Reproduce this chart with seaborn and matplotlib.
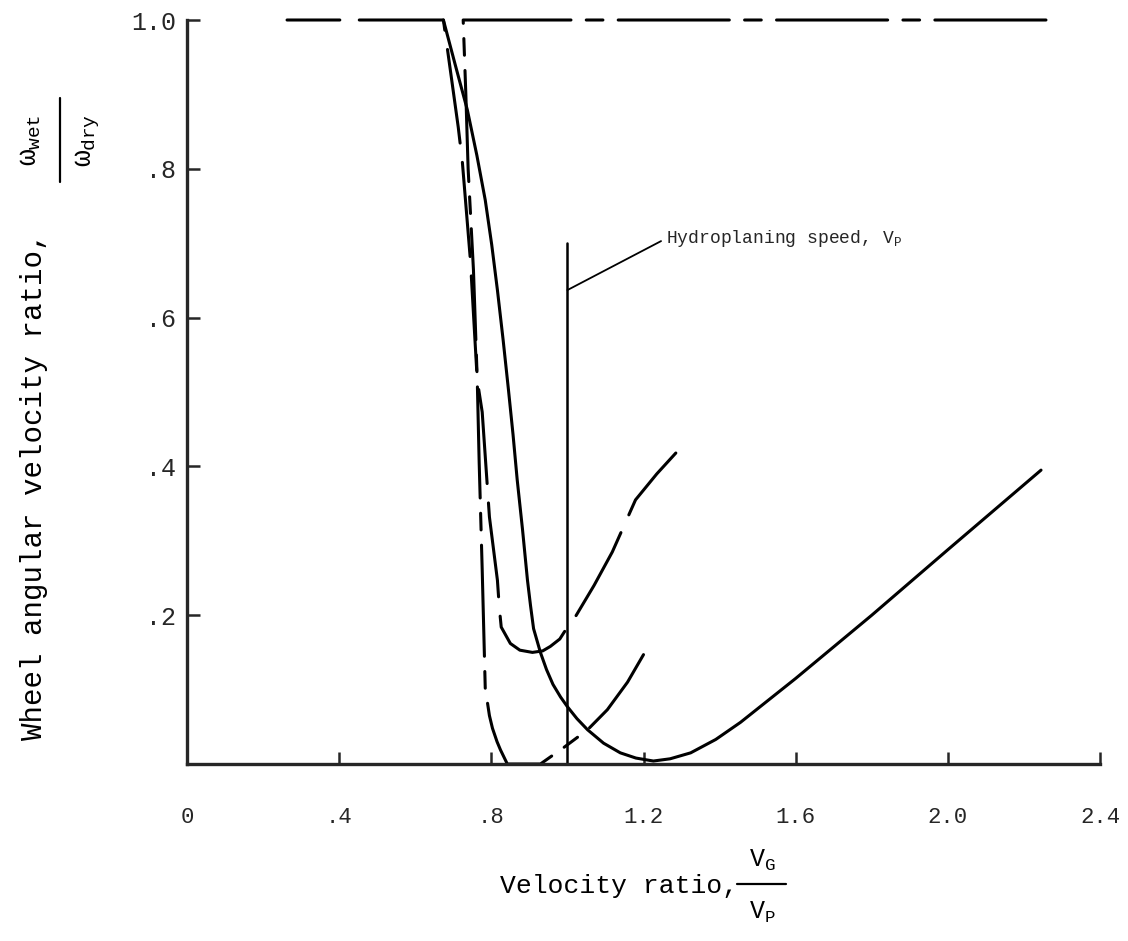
import matplotlib
matplotlib.use("Agg")
import matplotlib.pyplot as plt
import seaborn as sns

# Solid curve: spin-down from 1.0, minimum near V_G/V_P = 1.23, then recovery
solid_v = [0.674, 0.705, 0.737, 0.762, 0.784, 0.801, 0.816, 0.831, 0.845, 0.857,
           0.868, 0.882, 0.895, 0.903, 0.911, 0.920, 0.929, 0.945, 0.962, 0.982,
           1.000, 1.025, 1.053, 1.095, 1.139, 1.180, 1.226, 1.270, 1.324, 1.390,
           1.455, 1.600, 1.800, 2.000, 2.245]
solid_w = [1.000, 0.940, 0.879, 0.818, 0.758, 0.698, 0.637, 0.570, 0.503, 0.443,
           0.382, 0.315, 0.247, 0.213, 0.182, 0.166, 0.150, 0.127, 0.107, 0.090,
           0.077, 0.061, 0.046, 0.028, 0.015, 0.008, 0.004, 0.007, 0.015, 0.033,
           0.056, 0.115, 0.200, 0.288, 0.395]

# Long-dash curve: minimum of about 0.15 near V_G/V_P = 0.91
longdash_v = [0.263, 0.674, 0.713, 0.724, 0.745, 0.763, 0.776, 0.795, 0.816, 0.821,
              0.826, 0.850, 0.875, 0.908, 0.935, 0.955, 0.980, 1.000, 1.021, 1.070,
              1.118, 1.179, 1.235, 1.285]
longdash_w = [1.000, 1.000, 0.856, 0.808, 0.677, 0.516, 0.473, 0.332, 0.247, 0.210,
              0.184, 0.162, 0.153, 0.150, 0.152, 0.158, 0.168, 0.184, 0.198, 0.240,
              0.285, 0.355, 0.390, 0.418]

# Long-short dash curve: full lock-up between 0.84 and 0.93
chain_v = [2.258, 0.726, 0.733, 0.739, 0.753, 0.763, 0.768, 0.776, 0.784, 0.795,
           0.803, 0.815, 0.824, 0.842, 0.929, 0.990, 1.053, 1.105, 1.158, 1.200]
chain_w = [1.000, 1.000, 0.900, 0.800, 0.664, 0.516, 0.406, 0.261, 0.102, 0.065,
           0.048, 0.030, 0.019, 0.000, 0.000, 0.022, 0.046, 0.073, 0.110, 0.147]

# Hydroplaning speed marker
vp_line_v = [1.0, 1.0]
vp_line_w = [0.0, 0.70]

x_ticks = [0, 0.4, 0.8, 1.2, 1.6, 2.0, 2.4]
x_tick_labels = ["0", ".4", ".8", "1.2", "1.6", "2.0", "2.4"]
y_ticks = [0.2, 0.4, 0.6, 0.8, 1.0]
y_tick_labels = [".2", ".4", ".6", ".8", "1.0"]

sns.set_style("ticks")
plt.rcParams["font.family"] = ["Liberation Mono", "DejaVu Sans"]
plt.rcParams["mathtext.fontset"] = "custom"
plt.rcParams["mathtext.rm"] = "Liberation Mono"
plt.rcParams["mathtext.it"] = "Liberation Mono"
plt.rcParams["mathtext.bf"] = "Liberation Mono:bold"
plt.rcParams["lines.scale_dashes"] = False

W, H = 1128, 941
fig = plt.figure(figsize=(W / 100, H / 100), dpi=100)
x0, x1, y0, y1 = 187, 1100, 764, 20
ax = fig.add_axes([x0 / W, 1 - y0 / H, (x1 - x0) / W, (y0 - y1) / H])


def ax_xy(px, py):
    """Pixel position (from the top-left corner) to axes fraction."""
    return (px - x0) / (x1 - x0), (y0 - py) / (y0 - y1)


lw = 2.2
common = dict(ax=ax, color="black", linewidth=lw, sort=False, estimator=None,
              clip_on=False, legend=False)

sns.lineplot(x=solid_v, y=solid_w, linestyle="-", solid_capstyle="round",
             solid_joinstyle="round", **common)
sns.lineplot(x=longdash_v, y=longdash_w, linestyle=(30, (68, 14)),
             dash_capstyle="round", dash_joinstyle="round", **common)
sns.lineplot(x=chain_v, y=chain_w, linestyle=(0, (80, 11, 12, 11)),
             dash_capstyle="round", dash_joinstyle="round", **common)
sns.lineplot(x=vp_line_v, y=vp_line_w, ax=ax, color="black", linewidth=1.8,
             sort=False, estimator=None, legend=False)

ax.annotate(r"Hydroplaning speed, $\mathrm{V_P}$", xy=(1.0, 0.637),
            xytext=(1.258, 0.706), ha="left", va="center", fontsize=13,
            arrowprops=dict(arrowstyle="-", lw=1.3, color="black",
                            shrinkA=1, shrinkB=0, relpos=(0, 0.5)))

ax.set_xlim(0, 2.4)
ax.set_ylim(0, 1.0)
ax.set_xticks(x_ticks)
ax.set_xticklabels(x_tick_labels)
ax.set_yticks(y_ticks)
ax.set_yticklabels(y_tick_labels)

sns.despine(ax=ax)
for side in ("left", "bottom"):
    ax.spines[side].set_linewidth(2.4)
ax.tick_params(axis="both", direction="in", length=9, width=1.8)
ax.tick_params(axis="x", pad=31, labelsize=16)
ax.tick_params(axis="y", pad=8, labelsize=18)
ax.set_xlabel("")
ax.set_ylabel("")

txt = dict(transform=ax.transAxes, clip_on=False, color="black")
bar = dict(transform=ax.transAxes, clip_on=False, color="black", lw=1.6)

# x-axis title with a stacked V_G / V_P fraction
ax.text(*ax_xy(500, 893), "Velocity ratio,", ha="left", va="baseline",
        fontsize=19, **txt)
bx0, by = ax_xy(737, 884)
bx1, _ = ax_xy(786, 884)
ax.plot([bx0, bx1], [by, by], **bar)
ax.text(*ax_xy(762, 867), r"V$_\mathrm{G}$", ha="center", va="baseline",
        fontsize=18, **txt)
ax.text(*ax_xy(762, 919), r"V$_\mathrm{P}$", ha="center", va="baseline",
        fontsize=18, **txt)

# y-axis title with a stacked omega_wet / omega_dry fraction
ax.text(*ax_xy(34, 740), "Wheel angular velocity ratio,", rotation=90,
        ha="center", va="bottom", fontsize=21, **txt)
fy_mid = 140
ax.text(*ax_xy(30, fy_mid), r"$\omega_{\mathrm{wet}}$", rotation=90,
        ha="center", va="center", fontsize=20, **txt)
lx, ly0 = ax_xy(60, fy_mid + 42)
_, ly1 = ax_xy(60, fy_mid - 42)
ax.plot([lx, lx], [ly0, ly1], **bar)
ax.text(*ax_xy(88, fy_mid), r"$\omega_{\mathrm{dry}}$", rotation=90,
        ha="center", va="center", fontsize=20, **txt)

fig.savefig("out.png", dpi=100)
